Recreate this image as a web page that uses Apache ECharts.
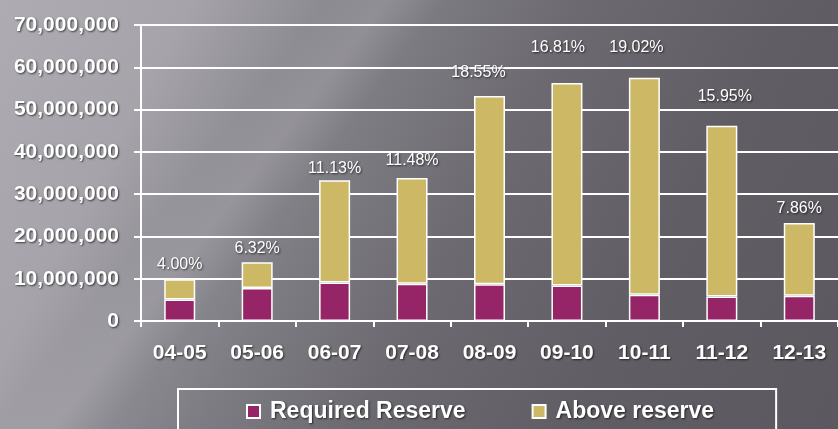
<!DOCTYPE html>
<html>
<head>
<meta charset="utf-8">
<script src="https://cdn.jsdelivr.net/npm/echarts@6/dist/echarts.min.js"></script>
<style>
html,body{margin:0;padding:0;}
#chart{width:838px;height:429px;
background:
 linear-gradient(128deg, rgba(255,255,255,0) 0%, rgba(255,255,255,0) 28%, rgba(255,255,255,0.10) 33%, rgba(255,255,255,0) 38%, rgba(255,255,255,0) 100%),
 linear-gradient(118deg, #aeacb2 0%, #a6a4aa 18%, #8e8c93 30%, #7e7c83 40%, #6c6a70 55%, #605e64 75%, #5b595f 100%);
}
</style>
</head>
<body>
<div id="chart"></div>
<script>
const categories = ['04-05','05-06','06-07','07-08','08-09','09-10','10-11','11-12','12-13'];
const requiredReserve = [5100000, 7800000, 9100000, 8800000, 8700000, 8400000, 6200000, 5800000, 6000000];
const totalFund = [9900000, 13900000, 33300000, 33800000, 53200000, 56300000, 57500000, 46200000, 23200000];
const aboveReserve = totalFund.map((t, i) => t - requiredReserve[i]);
const percentLabels = ['4.00%','6.32%','11.13%','11.48%','18.55%','16.81%','19.02%','15.95%','7.86%'];
const yTicks = [0, 10000000, 20000000, 30000000, 40000000, 50000000, 60000000, 70000000];

// label styling (pixel lifts / shifts above each bar)
const labelLift = [7, 6, 4, 9, 15, 27, 22, 21, 6];
const labelShift = [0, 0, 0, 0, -11, -9, -8, 3, 0];

const shadow = {textShadowColor:'rgba(0,0,0,0.65)', textShadowBlur:2, textShadowOffsetX:1, textShadowOffsetY:1};
const FONT = '"Liberation Sans", Arial, sans-serif';

const chart = echarts.init(document.getElementById('chart'), null, {renderer:'canvas'});
chart.setOption({
  backgroundColor:'transparent',
  animation:false,
  grid:{left:141, top:25, width:702, height:296, containLabel:false},
  legend:{
    left:178, top:389,
    padding:[11, 62, 40, 68],
    borderColor:'#ffffff', borderWidth:2,
    itemWidth:13, itemHeight:13, itemGap:66,
    icon:'rect',
    textStyle:Object.assign({color:'#ffffff', fontSize:23, fontWeight:'bold', fontFamily:FONT, padding:[0,0,0,5]}, shadow),
    data:['Required Reserve','Above reserve']
  },
  xAxis:{
    type:'category', data:categories,
    axisLine:{show:true, lineStyle:{color:'#ffffff', width:2}},
    axisTick:{show:true, length:6, lineStyle:{color:'#ffffff', width:2}},
    axisLabel:Object.assign({color:'#ffffff', fontSize:21, fontWeight:'bold', fontFamily:FONT, margin:22}, shadow)
  },
  yAxis:{
    type:'value', min:yTicks[0], max:yTicks[yTicks.length-1], interval:10000000,
    axisLine:{show:true, lineStyle:{color:'#ffffff', width:2}},
    axisTick:{show:true, length:7, lineStyle:{color:'#ffffff', width:2}},
    splitLine:{show:true, lineStyle:{color:'#ffffff', width:2}},
    axisLabel:Object.assign({color:'#ffffff', fontSize:21, fontWeight:'bold', fontFamily:FONT, margin:22,
      formatter:v => v.toLocaleString('en-US')}, shadow)
  },
  series:[
    {
      name:'Required Reserve', type:'bar', stack:'fund', barWidth:31,
      itemStyle:{color:'#952566', borderColor:'#ffffff', borderWidth:1.5},
      data:requiredReserve
    },
    {
      name:'Above reserve', type:'bar', stack:'fund', barWidth:31,
      itemStyle:{color:'#cdb865', borderColor:'#ffffff', borderWidth:1.5},
      data:aboveReserve.map((v, i) => ({
        value:v,
        label:{show:true, position:'top', distance:labelLift[i], offset:[labelShift[i], 0],
          formatter:percentLabels[i]}
      })),
      label:Object.assign({color:'#ffffff', fontSize:16, fontFamily:FONT}, shadow)
    }
  ]
});
</script>
</body>
</html>
